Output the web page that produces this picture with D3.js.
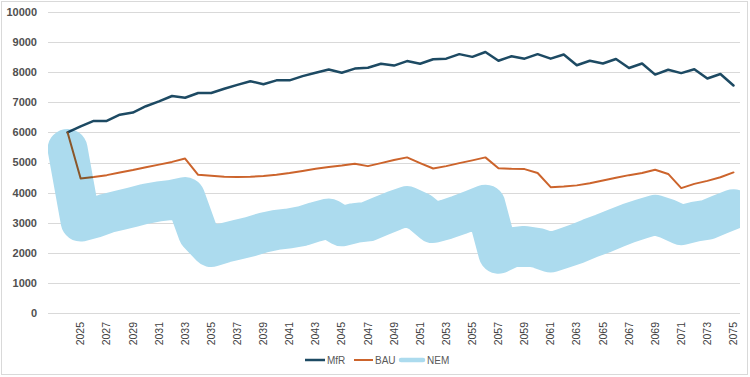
<!DOCTYPE html>
<html lang="en">
<head>
    <meta charset="UTF-8">
    <title>MfR / BAU / NEM</title>
    <script src="https://d3js.org/d3.v7.min.js"></script>
    <style>
        body { margin: 0; background: #fff; }
        text { font-family: "Liberation Sans", Arial, sans-serif; }
    </style>
</head>
<body>
<script>
    const width  = 750;
    const height = 377;

    // categories (2023 is an empty slot in the original chart)
    const categories = d3.range(2023, 2076);
    const seriesYears = d3.range(2024, 2076);

    const mfr = [6000, 6200, 6380, 6380, 6590, 6660, 6870, 7030, 7210, 7150,
                 7310, 7310, 7450, 7580, 7700, 7600, 7730, 7730, 7870, 7980,
                 8090, 7980, 8120, 8150, 8280, 8220, 8370, 8280, 8430, 8450,
                 8600, 8510, 8670, 8380, 8530, 8450, 8600, 8450, 8590, 8230,
                 8380, 8290, 8440, 8140, 8290, 7920, 8080, 7970, 8100, 7790,
                 7940, 7560];

    const bau = [6000, 4470, 4520, 4580, 4670, 4750, 4840, 4930, 5020, 5130,
                 4590, 4560, 4530, 4520, 4530, 4550, 4590, 4650, 4720, 4790,
                 4850, 4900, 4960, 4880, 4980, 5080, 5170, 4980, 4800, 4880,
                 4980, 5070, 5170, 4810, 4790, 4780, 4650, 4180, 4200, 4240,
                 4310, 4400, 4490, 4580, 4650, 4760, 4620, 4150, 4290, 4390,
                 4510, 4670];

    const nem = [5450, 3040, 3150, 3310, 3410, 3520, 3630, 3710, 3760, 3850,
                 2650, 2190, 2330, 2430, 2540, 2670, 2760, 2810, 2890, 3030,
                 3140, 2880, 2990, 3040, 3220, 3400, 3550, 3350, 2990, 3110,
                 3260, 3430, 3600, 1970, 2180, 2230, 2160, 2010, 2150, 2300,
                 2480, 2640, 2820, 2990, 3130, 3260, 3120, 2920, 3030, 3100,
                 3280, 3450];

    const yTicks = [0, 1000, 2000, 3000, 4000, 5000, 6000, 7000, 8000, 9000, 10000];
    const xLabels = categories.filter(d => d % 2 == 1 && d > 2023);

    const series = [
        {name: "MfR", values: mfr, color: "#1d4a63", width: 2.5},
        {name: "BAU", values: bau, color: "#cc642c", width: 2},
        {name: "NEM", values: nem, color: "#acdbee", width: 40}
    ];

    const x = d3.scaleBand().domain(categories).range([48, 740]).padding(0);
    const y = d3.scaleLinear().domain([0, 10000]).range([313, 12]);
    const cx = d => x(d) + x.bandwidth() / 2;

    const svg = d3.select("body").append("svg")
        .attr("width", width)
        .attr("height", height);

    svg.append("rect")
        .attr("x", 1.5).attr("y", 1.5)
        .attr("width", 746).attr("height", 373)
        .attr("fill", "#fff")
        .attr("stroke", "#d9d9d9");

    svg.append("clipPath").attr("id", "plot")
        .append("rect")
        .attr("x", 48).attr("y", 0)
        .attr("width", 692).attr("height", 313);

    // gridlines
    svg.append("g")
        .selectAll("line")
        .data(yTicks)
        .join("line")
        .attr("x1", 48).attr("x2", 740)
        .attr("y1", d => Math.round(y(d)) + 0.5)
        .attr("y2", d => Math.round(y(d)) + 0.5)
        .attr("stroke", "#d9d9d9");

    // y labels
    svg.append("g")
        .selectAll("text")
        .data(yTicks)
        .join("text")
        .attr("x", 37)
        .attr("y", d => y(d))
        .attr("dy", "0.36em")
        .attr("text-anchor", "end")
        .attr("font-size", 11)
        .attr("font-weight", "bold")
        .attr("fill", "#505050")
        .text(d => d);

    // x labels
    svg.append("g")
        .selectAll("text")
        .data(xLabels)
        .join("text")
        .attr("transform", d => "translate(" + [cx(d), 322] + ") rotate(-90)")
        .attr("dy", "0.35em")
        .attr("text-anchor", "end")
        .attr("font-size", 10.5)
        .attr("fill", "#404040")
        .text(d => d);

    const line = d3.line()
        .x((d, i) => cx(seriesYears[i]))
        .y(d => y(d));

    const g = svg.append("g").attr("clip-path", "url(#plot)");

    g.selectAll("path")
        .data(series)
        .join("path")
        .attr("d", d => line(d.values))
        .attr("fill", "none")
        .attr("stroke", d => d.color)
        .attr("stroke-width", d => d.width)
        .attr("stroke-linejoin", "round")
        .attr("stroke-linecap", "round")
        .style("mix-blend-mode", d => d.name == "NEM" ? "multiply" : null);

    // legend
    const legend = [
        {name: "MfR", x1: 305, x2: 325, tx: 327},
        {name: "BAU", x1: 354, x2: 373, tx: 375},
        {name: "NEM", x1: 401, x2: 423, tx: 427}
    ];
    const lg = svg.append("g");
    legend.forEach((d, i) => {
        const s = series[i];
        lg.append("line")
            .attr("x1", d.x1).attr("x2", d.x2)
            .attr("y1", 360).attr("y2", 360)
            .attr("stroke", s.color)
            .attr("stroke-width", s.name == "NEM" ? 4.5 : s.width)
            .attr("stroke-linecap", s.name == "NEM" ? "round" : "butt");
        lg.append("text")
            .attr("x", d.tx).attr("y", 360)
            .attr("dy", "0.35em")
            .attr("font-size", 10)
            .attr("fill", "#595959")
            .text(d.name);
    });
</script>
</body>
</html>
